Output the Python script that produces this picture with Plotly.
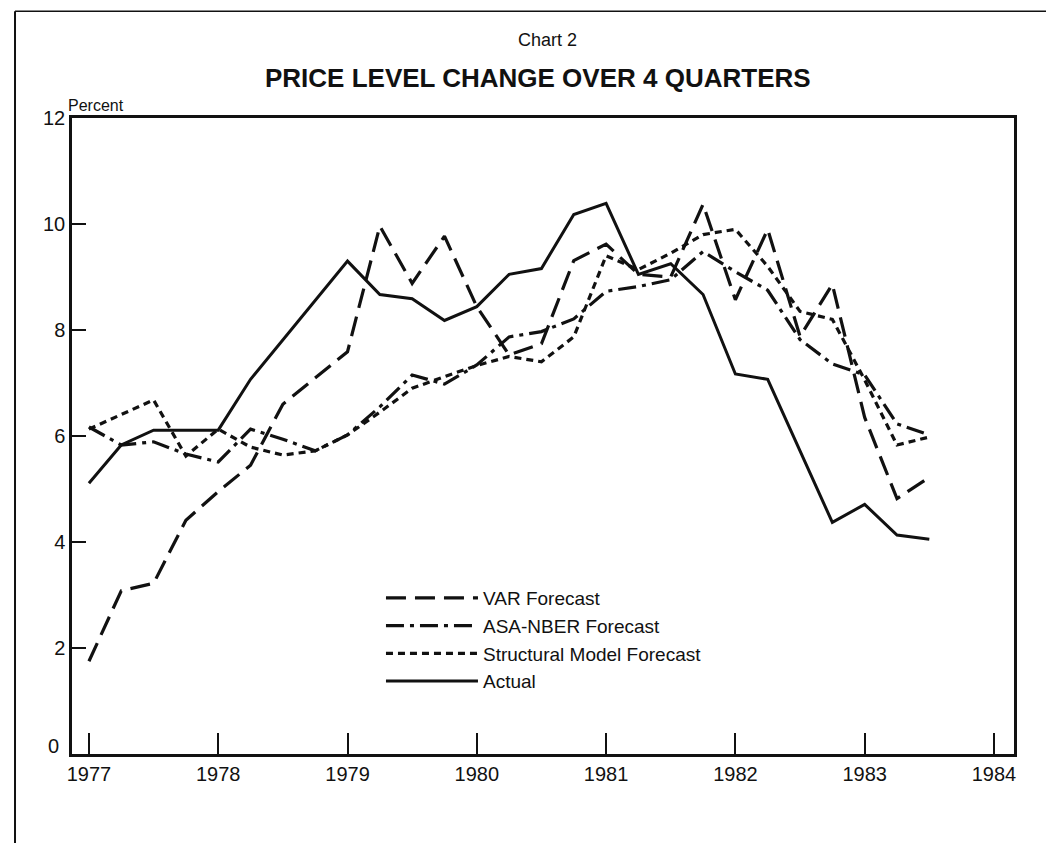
import plotly.graph_objects as go

quarters = [1977.00, 1977.25, 1977.50, 1977.75, 1978.00, 1978.25, 1978.50, 1978.75,
            1979.00, 1979.25, 1979.50, 1979.75, 1980.00, 1980.25, 1980.50, 1980.75,
            1981.00, 1981.25, 1981.50, 1981.75, 1982.00, 1982.25, 1982.50, 1982.75,
            1983.00, 1983.25, 1983.50]

var_forecast = [1.75, 3.08, 3.22, 4.41, 4.95, 5.45, 6.60, 7.10,
                7.59, 9.96, 8.88, 9.77, 8.44, 7.53, 7.74, 9.31,
                9.62, 9.05, 9.00, 10.37, 8.57, 9.90, 7.88, 8.86,
                6.35, 4.82, 5.22]

asa_nber = [6.17, 5.83, 5.89, 5.66, 5.51, 6.13, 5.94, 5.72,
            6.02, 6.55, 7.15, 6.98, 7.34, 7.87, 7.97, 8.21,
            8.73, 8.82, 8.95, 9.48, 9.10, 8.75, 7.82, 7.36,
            7.15, 6.23, 6.02]

structural = [6.13, 6.40, 6.68, 5.62, 6.13, 5.79, 5.64, 5.72,
              6.02, 6.45, 6.90, 7.12, 7.33, 7.50, 7.40, 7.87,
              9.40, 9.14, 9.45, 9.80, 9.90, 9.20, 8.35, 8.20,
              7.06, 5.83, 5.98]

actual = [5.11, 5.83, 6.11, 6.11, 6.11, 7.07, 7.81, 8.54,
          9.30, 8.67, 8.59, 8.18, 8.44, 9.05, 9.16, 10.18,
          10.39, 9.05, 9.25, 8.67, 7.17, 7.07, 5.72, 4.37,
          4.71, 4.13, 4.05]

series_names = ["VAR Forecast", "ASA-NBER Forecast", "Structural Model Forecast", "Actual"]
x_tick_vals = [1977, 1978, 1979, 1980, 1981, 1982, 1983, 1984]
x_tick_text = ["1977", "1978", "1979", "1980", "1981", "1982", "1983", "1984"]
y_tick_vals = [2, 4, 6, 8, 10, 12]
y_tick_text = ["2", "4", "6", "8", "10", "12"]

INK = "#111111"
FONT = "Liberation Sans, Arial, Helvetica, sans-serif"

fig = go.Figure()
styles = [
    dict(dash="20px,9px", width=3.2),
    dict(dash="18px,6px,4px,6px", width=3.2),
    dict(dash="7px,5px", width=3.2),
    dict(dash="solid", width=3),
]
for name, vals, st in zip(series_names, [var_forecast, asa_nber, structural, actual], styles):
    fig.add_trace(go.Scatter(
        x=quarters, y=vals, name=name, mode="lines",
        line=dict(color=INK, width=st["width"], dash=st["dash"]),
    ))

fig.update_layout(
    width=1054, height=843,
    margin=dict(l=64, r=48, t=110, b=97),
    paper_bgcolor="white", plot_bgcolor="white",
    font=dict(family=FONT, color=INK, size=20),
    showlegend=True,
    legend=dict(
        x=0.328, y=0.275, xanchor="left", yanchor="top",
        bgcolor="rgba(0,0,0,0)", borderwidth=0,
        font=dict(size=19, family=FONT, color=INK),
        itemwidth=92, tracegroupgap=0,
    ),
    xaxis=dict(
        range=[1976.869, 1984.155], tickvals=x_tick_vals, ticktext=x_tick_text,
        ticks="inside", ticklen=21, tickwidth=2, tickcolor=INK,
        showline=True, linecolor=INK, linewidth=2.5, mirror=True,
        showgrid=False, zeroline=False,
        tickfont=dict(size=20, family=FONT, color=INK),
    ),
    yaxis=dict(
        range=[0, 12], tickvals=y_tick_vals, ticktext=y_tick_text,
        ticks="inside", ticklen=14, tickwidth=2, tickcolor=INK,
        showline=True, linecolor=INK, linewidth=2.5, mirror=True,
        showgrid=False, zeroline=False,
        tickfont=dict(size=20, family=FONT, color=INK),
    ),
)

fig.add_annotation(text="0", xref="paper", yref="paper", x=-0.012, y=0.012,
                   xanchor="right", yanchor="middle", showarrow=False,
                   font=dict(size=20, family=FONT, color=INK))
fig.add_annotation(text="Chart 2", xref="paper", yref="paper", x=0.505, y=1.1226,
                   xanchor="center", yanchor="middle", showarrow=False,
                   font=dict(size=18, family=FONT, color=INK))
fig.add_annotation(text="<b>PRICE LEVEL CHANGE OVER 4 QUARTERS</b>", xref="paper", yref="paper",
                   x=0.4947, y=1.0629, xanchor="center", yanchor="middle", showarrow=False,
                   font=dict(size=26, family=FONT, color=INK))
fig.add_annotation(text="Percent", xref="paper", yref="paper", x=-0.006, y=1.019,
                   xanchor="left", yanchor="middle", showarrow=False,
                   font=dict(size=16, family=FONT, color=INK))

# page border (left, top, bottom)
fig.add_shape(type="line", xref="paper", yref="paper", x0=-0.0605, x1=-0.0605, y0=-0.149, y1=1.168,
              line=dict(color=INK, width=2))
fig.add_shape(type="line", xref="paper", yref="paper", x0=-0.0605, x1=1.051, y0=1.168, y1=1.168,
              line=dict(color=INK, width=1.5))
fig.add_shape(type="line", xref="paper", yref="paper", x0=-0.0605, x1=1.051, y0=-0.149, y1=-0.149,
              line=dict(color=INK, width=1.5))

fig.write_html("out.html")
